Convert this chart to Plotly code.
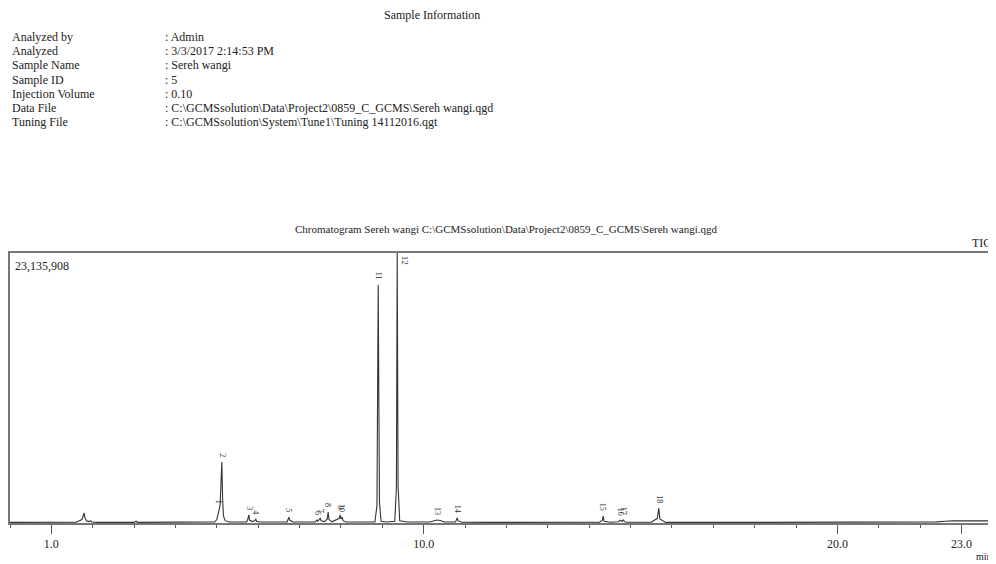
import plotly.graph_objects as go

# ---- data ----
info_keys = ["Analyzed by", "Analyzed", "Sample Name", "Sample ID",
             "Injection Volume", "Data File", "Tuning File"]
info_vals = [": Admin", ": 3/3/2017 2:14:53 PM", ": Sereh wangi", ": 5", ": 0.10",
             ": C:\\GCMSsolution\\Data\\Project2\\0859_C_GCMS\\Sereh wangi.qgd",
             ": C:\\GCMSsolution\\System\\Tune1\\Tuning 14112016.qgt"]

chrom_title = "Chromatogram Sereh wangi C:\\GCMSsolution\\Data\\Project2\\0859_C_GCMS\\Sereh wangi.qgd"
y_max = 23135908

# peak table (retention time in min, apex intensity in counts)
peak_labels = ["1", "2", "3", "4", "5", "6", "7", "8", "9", "10",
               "11", "12", "13", "14", "15", "16", "17", "18"]
peak_times = [5.06, 5.12, 5.77, 5.94, 6.74, 7.42, 7.50, 7.69, 7.98, 8.03,
              8.90, 9.36, 10.32, 10.81, 14.34, 14.76, 14.82, 15.68]
peak_heights = [1.20e6, 5.23e6, 0.69e6, 0.34e6, 0.50e6, 0.26e6, 0.43e6, 0.94e6, 0.69e6, 0.50e6,
                20.4e6, 23135908, 0.26e6, 0.43e6, 0.60e6, 0.22e6, 0.26e6, 1.29e6]

# TIC trace (time in min, intensity in counts)
tic_time = [0.00, 1.00, 1.60, 1.74, 1.77, 1.79, 1.81, 1.85, 1.92, 1.95, 1.98, 2.10,
            3.00, 3.05, 3.08, 3.90, 4.00, 4.02, 4.50, 4.70, 4.95, 5.00, 5.04, 5.06,
            5.08, 5.10, 5.12, 5.14, 5.16, 5.20, 5.30, 5.72, 5.75, 5.77, 5.79, 5.86,
            5.92, 5.94, 5.96, 6.05, 6.70, 6.72, 6.74, 6.76, 6.84, 7.38, 7.41, 7.42,
            7.44, 7.48, 7.50, 7.52, 7.60, 7.67, 7.69, 7.71, 7.78, 7.96, 7.98, 8.00,
            8.03, 8.05, 8.12, 8.82, 8.87, 8.90, 8.93, 8.97, 9.10, 9.30, 9.34, 9.36,
            9.38, 9.42, 9.60, 10.15, 10.25, 10.32, 10.40, 10.50, 10.77, 10.79, 10.81,
            10.83, 10.92, 11.50, 14.25, 14.32, 14.34, 14.36, 14.50, 14.70, 14.76,
            14.80, 14.82, 14.88, 15.50, 15.65, 15.68, 15.71, 15.85, 18.00, 19.50,
            19.70, 22.40, 22.60, 22.80, 23.64]
tic_int = [0.05e6, 0.05e6, 0.06e6, 0.30e6, 0.60e6, 0.86e6, 0.45e6, 0.18e6, 0.12e6, 0.20e6, 0.08e6, 0.05e6,
           0.05e6, 0.15e6, 0.05e6, 0.05e6, 0.08e6, 0.05e6, 0.06e6, 0.08e6, 0.10e6, 0.30e6, 0.80e6, 1.20e6,
           1.60e6, 3.00e6, 5.23e6, 2.00e6, 0.60e6, 0.20e6, 0.08e6, 0.10e6, 0.35e6, 0.69e6, 0.25e6, 0.12e6,
           0.20e6, 0.34e6, 0.15e6, 0.08e6, 0.10e6, 0.30e6, 0.50e6, 0.25e6, 0.08e6, 0.10e6, 0.20e6, 0.26e6,
           0.15e6, 0.30e6, 0.43e6, 0.18e6, 0.12e6, 0.35e6, 0.94e6, 0.30e6, 0.10e6, 0.40e6, 0.69e6, 0.35e6,
           0.50e6, 0.20e6, 0.08e6, 0.08e6, 1.50e6, 20.4e6, 1.80e6, 0.15e6, 0.08e6, 0.15e6, 3.00e6, 23135908,
           3.20e6, 0.20e6, 0.08e6, 0.08e6, 0.20e6, 0.26e6, 0.22e6, 0.08e6, 0.08e6, 0.25e6, 0.43e6,
           0.20e6, 0.06e6, 0.05e6, 0.06e6, 0.25e6, 0.60e6, 0.15e6, 0.06e6, 0.10e6, 0.22e6,
           0.15e6, 0.26e6, 0.06e6, 0.06e6, 0.40e6, 1.29e6, 0.35e6, 0.05e6, 0.05e6, 0.06e6,
           0.10e6, 0.10e6, 0.15e6, 0.18e6, 0.18e6]

major_ticks = [1.0, 10.0, 20.0, 23.0]
major_tick_text = ["1.0", "10.0", "20.0", "23.0"]

# ---- figure ----
FONT = "Liberation Serif, Times New Roman, serif"
fig = go.Figure()
fig.add_trace(go.Scatter(x=tic_time, y=tic_int, mode="lines",
                         line=dict(color="#333333", width=1.1), hoverinfo="skip",
                         showlegend=False, cliponaxis=True))

OFF = 8  # page body margin in the browser
W, H = 996, 564
L = 10 - OFF
T = 253 - OFF
R = W - (988 - OFF)
B = H - (523 - OFF)
pw, ph = W - L - R, H - T - B


def px(xp):
    return (xp - OFF - L) / pw


def py(yp):
    return (H - B - (yp - OFF)) / ph


ann = []
ann.append(dict(text="Sample Information", x=px(432), y=py(15), xref="paper", yref="paper",
                xanchor="center", yanchor="middle", showarrow=False, font=dict(size=12)))
for i, (k, v) in enumerate(zip(info_keys, info_vals)):
    yy = 37 + i * 14.2
    ann.append(dict(text=k, x=px(10), y=py(yy), xref="paper", yref="paper",
                    xanchor="left", yanchor="middle", showarrow=False, font=dict(size=12)))
    ann.append(dict(text=v, x=px(163), y=py(yy), xref="paper", yref="paper",
                    xanchor="left", yanchor="middle", showarrow=False, font=dict(size=12)))
ann.append(dict(text=chrom_title, x=px(506), y=py(229), xref="paper", yref="paper",
                xanchor="center", yanchor="middle", showarrow=False, font=dict(size=11)))
ann.append(dict(text="TIC", x=px(970), y=py(243), xref="paper", yref="paper",
                xanchor="left", yanchor="middle", showarrow=False, font=dict(size=12)))
ann.append(dict(text=f"{y_max:,}", x=px(13), y=py(266), xref="paper", yref="paper",
                xanchor="left", yanchor="middle", showarrow=False, font=dict(size=12)))
ann.append(dict(text="min", x=px(974), y=py(556), xref="paper", yref="paper",
                xanchor="left", yanchor="middle", showarrow=False,
                font=dict(size=10, color="#222")))

for lab, t, h in zip(peak_labels, peak_times, peak_heights):
    if lab == "12":
        ann.append(dict(text=lab, x=t, y=h, xref="x", yref="y", xshift=8, yshift=-7,
                        textangle=90, showarrow=False, font=dict(size=9, color="#333"),
                        xanchor="center", yanchor="middle"))
    else:
        ann.append(dict(text=lab, x=t, y=h, xref="x", yref="y", yshift=3,
                        textangle=90, showarrow=False, font=dict(size=8, color="#333"),
                        xanchor="center", yanchor="bottom"))

fig.update_layout(
    width=W, height=H, margin=dict(l=L, r=R, t=T, b=B),
    paper_bgcolor="white", plot_bgcolor="white",
    font=dict(family=FONT, color="#222", size=12),
    annotations=ann, showlegend=False,
    xaxis=dict(range=[0.0, 23.64], tickmode="array", tickvals=major_ticks,
               ticktext=major_tick_text, ticks="outside", ticklen=9, tickwidth=1,
               tickcolor="#555", showgrid=False, zeroline=False, showline=True,
               linecolor="#777", linewidth=1.5, mirror=True,
               tickfont=dict(size=12, family=FONT),
               minor=dict(dtick=1, tick0=0, ticks="outside", ticklen=3, tickcolor="#555",
                          showgrid=False)),
    yaxis=dict(range=[0, y_max], showticklabels=False, ticks="", showgrid=False,
               zeroline=False, showline=True, linecolor="#777", linewidth=1.5, mirror=True),
)

fig.write_html("out.html")
